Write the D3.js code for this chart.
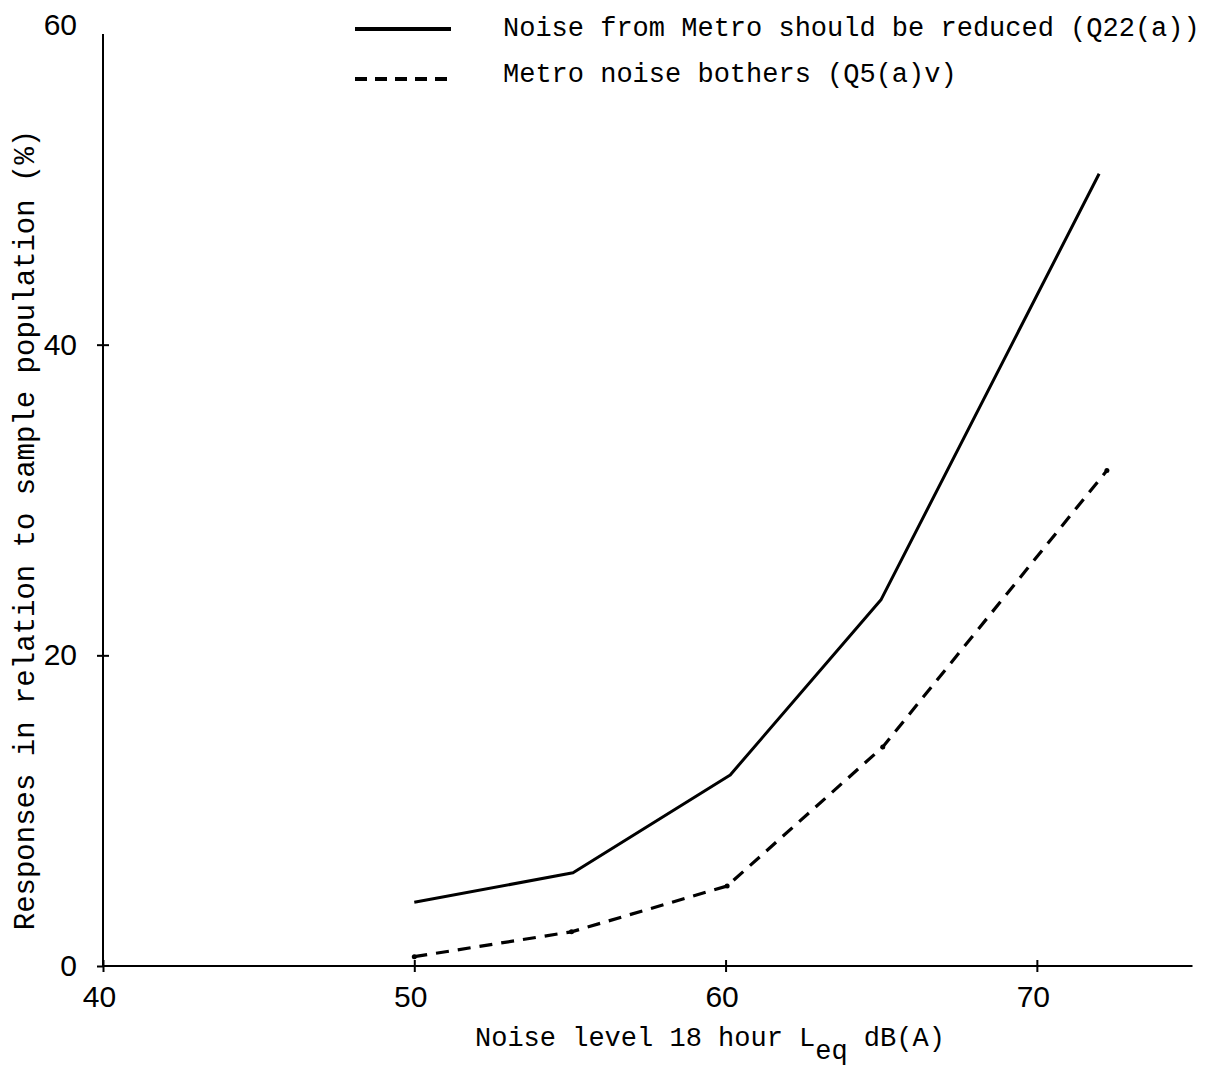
<!DOCTYPE html>
<html>
<head>
<meta charset="utf-8">
<script src="https://cdn.jsdelivr.net/npm/d3@7"></script>
<style>
  body { margin: 0; background: #fff; }
  svg { display: block; }
</style>
</head>
<body>
<div id="chart"></div>
<script>
// DATA //////////////////////////////////////////////////////////
var reducedX = [50, 55.1, 60.15, 65, 72];
var reducedY = [4.1, 6.0, 12.3, 23.6, 51];
var bothersX = [50, 55.05, 60.05, 65.05, 72.25];
var bothersY = [0.6, 2.2, 5.15, 14.1, 31.9];
var xTicks = [40, 50, 60, 70];
var yTicks = [0, 20, 40, 60];
var legendLabels = ["Noise from Metro should be reduced (Q22(a))", "Metro noise bothers (Q5(a)v)"];

// SETUP /////////////////////////////////////////////////////////
var width = 1211, height = 1073;
var monoFont = "'Liberation Mono', 'DejaVu Sans Mono', monospace";
var tickFont = "'Liberation Sans', sans-serif";

var svg = d3.select("#chart").append("svg")
  .attr("width", width).attr("height", height);

var x = d3.scaleLinear().domain([40, 75]).range([103, 1192.5]);
var y = d3.scaleLinear().domain([0, 60]).range([966, 34]);

// AXES //////////////////////////////////////////////////////////
var xAxis = svg.append("g").attr("transform", "translate(0," + y(0) + ")")
  .call(d3.axisBottom(x).tickValues(xTicks).tickSize(6).tickPadding(14).tickFormat(d3.format("d")));
xAxis.select(".domain").attr("d", "M" + x(40) + ",0H" + x(75)).attr("stroke-width", 2);
xAxis.selectAll(".tick line").attr("y1", -6).attr("y2", 6).attr("stroke-width", 2);
xAxis.selectAll(".tick text").attr("dy", "0.71em").attr("dx", -4)
  .style("font-family", tickFont).style("font-size", "30px");

var yAxis = svg.append("g").attr("transform", "translate(" + x(40) + ",0)")
  .call(d3.axisLeft(y).tickValues(yTicks).tickSize(6).tickPadding(20).tickFormat(d3.format("d")));
yAxis.select(".domain").attr("d", "M0," + y(0) + "V" + y(60)).attr("stroke-width", 2);
yAxis.selectAll(".tick line")
  .attr("x1", function(d){ return d === 0 ? 0 : (d === 60 ? -6 : 6); })
  .attr("x2", -6).attr("stroke-width", 2);
yAxis.selectAll(".tick text")
  .style("font-family", tickFont).style("font-size", "30px")
  .attr("dy", function(d){ return d === 60 ? "0.0em" : "0.32em"; });

// AXIS TITLES ///////////////////////////////////////////////////
var xTitle = svg.append("text").attr("x", 475).attr("y", 1046)
  .style("font-family", monoFont).style("font-size", "27px");
xTitle.append("tspan").text("Noise level 18 hour L");
xTitle.append("tspan").attr("dy", 13).text("eq");
xTitle.append("tspan").attr("dy", -13).text(" dB(A)");

svg.append("text")
  .attr("transform", "translate(34,530) rotate(-90)")
  .attr("text-anchor", "middle")
  .style("font-family", monoFont).style("font-size", "29px")
  .text("Responses in relation to sample population (%)");

// LINES /////////////////////////////////////////////////////////
var line = d3.line().x(function(d){ return x(d[0]); }).y(function(d){ return y(d[1]); });
var reduced = d3.zip(reducedX, reducedY);
var bothers = d3.zip(bothersX, bothersY);

svg.append("path").datum(reduced).attr("d", line)
  .attr("fill", "none").attr("stroke", "#000").attr("stroke-width", 3)
  .attr("stroke-linejoin", "round");

svg.append("path").datum(bothers).attr("d", line)
  .attr("fill", "none").attr("stroke", "#000").attr("stroke-width", 3.2)
  .attr("stroke-dasharray", "13,9");

svg.selectAll(".vertex").data(bothers).enter().append("circle").attr("class", "vertex")
  .attr("cx", function(d){ return x(d[0]); })
  .attr("cy", function(d){ return y(d[1]); })
  .attr("r", 2.5).attr("fill", "#000");

// LEGEND ////////////////////////////////////////////////////////
var legend = svg.append("g");
legend.append("line").attr("x1", 355).attr("x2", 451).attr("y1", 29).attr("y2", 29)
  .attr("stroke", "#000").attr("stroke-width", 4);
legend.append("line").attr("x1", 355).attr("x2", 451).attr("y1", 79).attr("y2", 79)
  .attr("stroke", "#000").attr("stroke-width", 4).attr("stroke-dasharray", "12,8");
legend.selectAll(".legtext").data(legendLabels).enter().append("text").attr("class", "legtext")
  .attr("x", 503).attr("y", function(d,i){ return 36 + i * 46; })
  .style("font-family", monoFont).style("font-size", "27px")
  .text(function(d){ return d; });
</script>
</body>
</html>
